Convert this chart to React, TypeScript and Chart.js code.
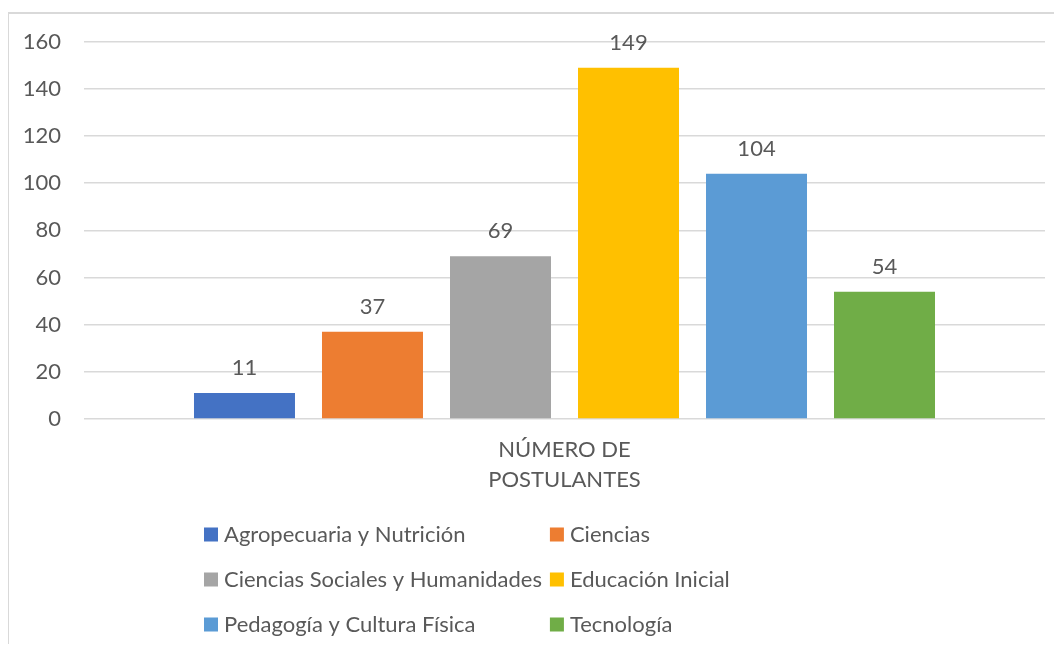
import React, { useEffect, useRef } from "react";
import { Chart, registerables } from "chart.js";

Chart.register(...registerables);

const categories: string[][] = [["NÚMERO DE", "POSTULANTES"]];
const seriesNames: string[] = [
  "Agropecuaria y Nutrición",
  "Ciencias",
  "Ciencias Sociales y Humanidades",
  "Educación Inicial",
  "Pedagogía y Cultura Física",
  "Tecnología",
];
const seriesValues: number[] = [11, 37, 69, 149, 104, 54];
const seriesColors: string[] = ["#4472C4", "#ED7D31", "#A5A5A5", "#FFC000", "#5B9BD5", "#70AD47"];
const yTicks = { min: 0, max: 160, step: 20 };

const FONT = "Lato";
const FONT_SIZE = 22;
const TEXT = "#595959";
const GRID = "#d9d9d9";

const valueLabels = {
  id: "valueLabels",
  afterDatasetsDraw(chart: any) {
    const ctx = chart.ctx;
    ctx.save();
    ctx.font = `${FONT_SIZE}px ${FONT}`;
    ctx.fillStyle = TEXT;
    ctx.textAlign = "center";
    ctx.textBaseline = "middle";
    chart.data.datasets.forEach((ds: any, i: number) => {
      const meta = chart.getDatasetMeta(i);
      meta.data.forEach((bar: any, j: number) => {
        ctx.fillText(String(ds.data[j]), bar.x, bar.y - 25);
      });
    });
    ctx.restore();
  },
};

const gridLegend = {
  id: "gridLegend",
  afterDraw(chart: any) {
    const ctx = chart.ctx;
    ctx.save();
    ctx.font = `${FONT_SIZE}px ${FONT}`;
    ctx.textBaseline = "middle";
    ctx.textAlign = "left";
    const ds = chart.data.datasets;
    const box = 14;
    const gap = 6;
    let colW = 0;
    ds.forEach((d: any, i: number) => {
      if (i % 2 === 0) colW = Math.max(colW, box + gap + ctx.measureText(d.label).width);
    });
    const x0 = 196;
    const y0 = 526.5;
    const rowH = 45;
    ds.forEach((d: any, i: number) => {
      const col = i % 2;
      const row = Math.floor(i / 2);
      const x = x0 + col * (colW + 8);
      const y = y0 + row * rowH;
      ctx.fillStyle = d.backgroundColor;
      ctx.fillRect(x, y - box / 2, box, box);
      ctx.fillStyle = TEXT;
      ctx.fillText(d.label, x + box + gap, y);
    });
    ctx.restore();
  },
};

export default function App() {
  const ref = useRef<HTMLCanvasElement>(null);
  useEffect(() => {
    if (!ref.current) return;
    const chart = new Chart(ref.current, {
      type: "bar",
      data: {
        labels: categories as any,
        datasets: seriesNames.map((name, i) => ({
          label: name,
          data: [seriesValues[i]],
          backgroundColor: seriesColors[i],
          borderWidth: 0,
          categoryPercentage: 0.7992,
          barPercentage: 0.789,
        })),
      },
      options: {
        responsive: false,
        animation: false,
        layout: { padding: { left: 0, top: 33.7, right: 17, bottom: 125 } },
        plugins: { legend: { display: false }, tooltip: { enabled: false } },
        scales: {
          x: {
            grid: { display: false, drawTicks: false },
            border: { display: false },
            ticks: {
              color: TEXT,
              font: { family: FONT, size: FONT_SIZE, lineHeight: 30 / FONT_SIZE },
              padding: 15.5,
              maxRotation: 0,
            },
            afterFit: (s: any) => {
              s.height = 100;
            },
          },
          y: {
            min: yTicks.min,
            max: yTicks.max,
            grid: {
              color: GRID,
              lineWidth: 1.5,
              drawTicks: true,
              tickLength: 23,
              tickColor: "rgba(0,0,0,0)",
            },
            border: { display: false },
            ticks: {
              stepSize: yTicks.step,
              color: TEXT,
              font: { family: FONT, size: FONT_SIZE },
              padding: 0,
            },
            afterFit: (s: any) => {
              s.width = 76;
            },
          },
        },
      },
      plugins: [valueLabels, gridLegend],
    });
    return () => chart.destroy();
  }, []);
  return (
    <div style={{ position: "relative", width: 1054, height: 636 }}>
      <div
        style={{
          position: "absolute",
          left: -1,
          top: 4,
          right: 0,
          bottom: 0,
          borderLeft: "2px solid #d9d9d9",
          borderTop: "2px solid #d9d9d9",
        }}
      />
      <canvas
        ref={ref}
        width={1054}
        height={636}
        style={{ position: "absolute", left: 0, top: 0, width: 1054, height: 636 }}
      />
    </div>
  );
}
